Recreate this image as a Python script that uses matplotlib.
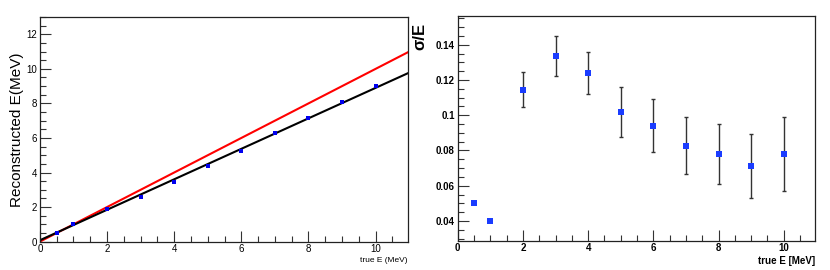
import matplotlib
matplotlib.use("Agg")
import matplotlib.pyplot as plt
from matplotlib.ticker import MultipleLocator
import numpy as np

plt.rcParams['font.family'] = ['Liberation Sans', 'DejaVu Sans']

# Data
true_E = [0.5, 1, 2, 3, 4, 5, 6, 7, 8, 9, 10]
reco_E = [0.52, 1.0, 1.88, 2.58, 3.47, 4.40, 5.27, 6.27, 7.17, 8.08, 8.99]
fit_intercept = 0.08
fit_slope = 0.882
sigma_E = [0.050, 0.040, 0.1145, 0.1336, 0.1238, 0.1017, 0.0941, 0.0828, 0.0778, 0.0710, 0.0780]
sigma_err = [0.0, 0.0, 0.0100, 0.0113, 0.0120, 0.0142, 0.0151, 0.0160, 0.0170, 0.0181, 0.0210]

fig = plt.figure(figsize=(8.3, 2.7), dpi=100)

def root_style(ax):
    ax.tick_params(which='both', direction='in', top=False, right=False, color='#333333')
    ax.tick_params(which='major', length=8, width=0.8)
    ax.tick_params(which='minor', length=4, width=0.8)
    for s in ax.spines.values():
        s.set_linewidth(0.9)
        s.set_color('#222222')

# Left panel
ax1 = fig.add_axes([0.048, 0.105, 0.443, 0.832])
xx = np.array([0, 10.95])
ax1.plot(xx, xx, color='#ff0000', lw=1.5)
ax1.plot(xx, fit_intercept + fit_slope * xx, color='black', lw=1.5)
ax1.plot(true_E, reco_E, 's', color='#0000ee', ms=2.5, mew=0)
ax1.set_xlim(0, 10.95)
ax1.set_ylim(0, 13)
ax1.xaxis.set_major_locator(MultipleLocator(2))
ax1.xaxis.set_minor_locator(MultipleLocator(0.5))
ax1.yaxis.set_major_locator(MultipleLocator(2))
ax1.yaxis.set_minor_locator(MultipleLocator(0.5))
root_style(ax1)
ax1.tick_params(labelsize=7, pad=2)
ax1.set_ylabel('Reconstructed E(MeV)', fontsize=11, labelpad=2)
ax1.set_xlabel('true E (MeV)', fontsize=6, loc='right', labelpad=2)

# Right panel
ax2 = fig.add_axes([0.5515, 0.1085, 0.4305, 0.832])
xe = [x for x, e in zip(true_E, sigma_err) if e > 0]
ye = [y for y, e in zip(sigma_E, sigma_err) if e > 0]
ee = [e for e in sigma_err if e > 0]
ax2.errorbar(xe, ye, yerr=ee, fmt='none', ecolor='#333333', elinewidth=1.0, capsize=1.5, capthick=1.0)
ax2.plot(true_E, sigma_E, 's', color='#1a3cff', ms=4.5, mew=0)
ax2.set_xlim(0, 10.96)
ax2.set_ylim(0.0288, 0.1563)
ax2.xaxis.set_major_locator(MultipleLocator(2))
ax2.xaxis.set_minor_locator(MultipleLocator(0.5))
ax2.yaxis.set_major_locator(MultipleLocator(0.02))
ax2.yaxis.set_minor_locator(MultipleLocator(0.005))
ax2.yaxis.set_major_formatter(plt.FuncFormatter(lambda v, p: ('%g' % round(v, 3))))
root_style(ax2)
ax2.tick_params(labelsize=7, pad=2)
for lab in ax2.get_xticklabels() + ax2.get_yticklabels():
    lab.set_fontweight('bold')
fig.text(420 / 830, 1 - 36 / 270, 'σ/E', fontsize=12, fontweight='bold',
         rotation=90, ha='center', va='center')
ax2.set_xlabel('true E [MeV]', fontsize=7, fontweight='bold', loc='right', labelpad=2)

fig.savefig('out.png', dpi=100)
